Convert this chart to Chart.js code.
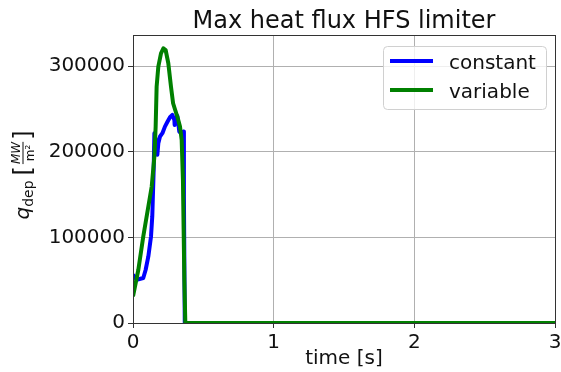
<!DOCTYPE html>
<html>
<head>
<meta charset="utf-8">
<script src="https://cdn.jsdelivr.net/npm/chart.js@4.4.1/dist/chart.umd.min.js"></script>
<style>
  html, body { margin: 0; padding: 0; background: #fff; }
  #wrap { width: 561px; height: 372px; }
</style>
</head>
<body>
<div id="wrap"><canvas id="chart" width="561" height="372"></canvas></div>
<script>
// values (time in s, q in MW/m2)
const constTime = [0, 0.026, 0.073, 0.09, 0.109, 0.128, 0.137, 0.147, 0.152, 0.161, 0.173, 0.18, 0.192, 0.209, 0.227, 0.246, 0.263, 0.28, 0.294, 0.296, 0.306, 0.315, 0.322, 0.329, 0.341, 0.351, 0.358, 0.362, 0.368, 3];
const constVals = [56400, 50500, 52500, 62200, 77800, 101100, 124400, 178900, 221700, 213900, 196400, 210000, 217800, 221700, 229400, 235300, 240300, 243100, 237200, 231400, 239200, 241900, 233300, 223600, 221700, 222400, 223600, 147800, 0, 0];

const varTime = [0, 0.038, 0.073, 0.109, 0.133, 0.152, 0.161, 0.168, 0.18, 0.199, 0.216, 0.232, 0.251, 0.27, 0.285, 0.296, 0.315, 0.334, 0.346, 0.355, 0.36, 0.365, 0.372, 3];
const varVals = [31000, 62200, 101100, 136100, 159400, 194400, 229400, 276100, 299500, 315000, 320900, 318900, 303400, 276100, 256700, 250800, 241100, 229400, 213900, 167200, 108900, 50500, 0, 0];

const seriesNames = ['constant', 'variable'];
const seriesColors = ['#0000ff', '#008000'];
const xTicks = [0, 1, 2, 3];
const yTicks = [0, 100000, 200000, 300000];

const FONT = '"DejaVu Sans", sans-serif';
const toPoints = (ts, vs) => ts.map((t, i) => ({ x: t, y: vs[i] }));

// title, frame, y label and legend drawn by hand
const extras = {
    id: 'extras',
    afterDatasetsDraw(chart) {
        const ctx = chart.ctx;
        const a = chart.chartArea;
        ctx.save();

        // frame
        ctx.strokeStyle = '#333';
        ctx.lineWidth = 1;
        ctx.strokeRect(Math.round(a.left) + 0.5, Math.round(a.top) + 0.5,
            Math.round(a.right - a.left), Math.round(a.bottom - a.top));

        // title
        ctx.fillStyle = '#111';
        ctx.font = '24px ' + FONT;
        ctx.textAlign = 'center';
        ctx.textBaseline = 'alphabetic';
        ctx.fillText('Max heat flux HFS limiter', (a.left + a.right) / 2, 28);

        // y axis label: q_dep [MW/m²]
        ctx.save();
        ctx.translate(29, 175);
        ctx.rotate(-Math.PI / 2);
        ctx.textAlign = 'left';
        ctx.font = 'italic 20px ' + FONT;
        const wq = ctx.measureText('q').width;
        ctx.font = '14px ' + FONT;
        const wdep = ctx.measureText('dep').width;
        ctx.font = '24px ' + FONT;
        const wbr = ctx.measureText('[').width;
        ctx.font = 'italic 12px ' + FONT;
        const wmw = ctx.measureText('MW').width;
        const total = wq + wdep + 5 + wbr * 2 + wmw + 4;
        let x = -total / 2;
        ctx.font = 'italic 20px ' + FONT;
        ctx.fillText('q', x, 0); x += wq;
        ctx.font = '14px ' + FONT;
        ctx.fillText('dep', x, 4); x += wdep + 5;
        ctx.font = '24px ' + FONT;
        ctx.fillText('[', x, 2); x += wbr + 2;
        ctx.font = 'italic 12px ' + FONT;
        ctx.fillText('MW', x, -9);
        ctx.font = '12px ' + FONT;
        ctx.textAlign = 'center';
        ctx.fillText('m\u00b2', x + wmw / 2, 5);
        ctx.fillRect(x, -6.5, wmw, 1);
        ctx.textAlign = 'left';
        x += wmw + 2;
        ctx.font = '24px ' + FONT;
        ctx.fillText(']', x, 2);
        ctx.restore();

        // legend
        const lx = 383, ly = 46, lw = 163, lh = 63;
        ctx.fillStyle = 'rgba(255,255,255,0.8)';
        ctx.strokeStyle = '#d0d0d0';
        ctx.lineWidth = 1;
        ctx.beginPath();
        ctx.roundRect(lx + 0.5, ly + 0.5, lw, lh, 4);
        ctx.fill();
        ctx.stroke();
        ctx.font = '20px ' + FONT;
        ctx.textAlign = 'left';
        ctx.textBaseline = 'alphabetic';
        seriesNames.forEach((name, i) => {
            const yy = 61 + i * 29;
            ctx.strokeStyle = seriesColors[i];
            ctx.lineWidth = 4;
            ctx.beginPath();
            ctx.moveTo(390, yy);
            ctx.lineTo(433, yy);
            ctx.stroke();
            ctx.fillStyle = '#111';
            ctx.fillText(name, 449, yy + 8);
        });
        ctx.restore();
    }
};

new Chart(document.getElementById('chart'), {
    type: 'line',
    data: {
        datasets: [
            {
                label: seriesNames[0],
                data: toPoints(constTime, constVals),
                borderColor: seriesColors[0],
                borderWidth: 4,
                pointRadius: 0,
                borderJoinStyle: 'round',
                order: 2
            },
            {
                label: seriesNames[1],
                data: toPoints(varTime, varVals),
                borderColor: seriesColors[1],
                borderWidth: 4,
                pointRadius: 0,
                borderJoinStyle: 'round',
                order: 1
            }
        ]
    },
    options: {
        responsive: false,
        animation: false,
        devicePixelRatio: 1,
        layout: { padding: { top: 35, right: 6, left: 0, bottom: 0 } },
        plugins: { legend: { display: false }, tooltip: { enabled: false } },
        scales: {
            x: {
                type: 'linear',
                min: 0,
                max: 3,
                afterBuildTicks: s => { s.ticks = xTicks.map(v => ({ value: v })); },
                afterFit: s => { s.height = 49; s.paddingLeft = 0; s.paddingRight = 0; },
                grid: { color: '#b0b0b0', tickColor: '#333', tickLength: 5 },
                border: { color: '#333' },
                ticks: { font: { family: FONT, size: 20 }, color: '#111', padding: 3, maxRotation: 0 },
                title: { display: true, text: 'time [s]', font: { family: FONT, size: 20 }, color: '#111', padding: { top: 0, bottom: 1 } }
            },
            y: {
                min: 0,
                max: 336400,
                afterBuildTicks: s => { s.ticks = yTicks.map(v => ({ value: v })); },
                afterFit: s => { s.width = 133; s.paddingTop = 0; s.paddingBottom = 0; },
                grid: { color: '#b0b0b0', tickColor: '#333', tickLength: 5 },
                border: { color: '#333' },
                ticks: { font: { family: FONT, size: 20 }, color: '#111', padding: 3, callback: v => String(v) }
            }
        }
    },
    plugins: [extras]
});
</script>
</body>
</html>
